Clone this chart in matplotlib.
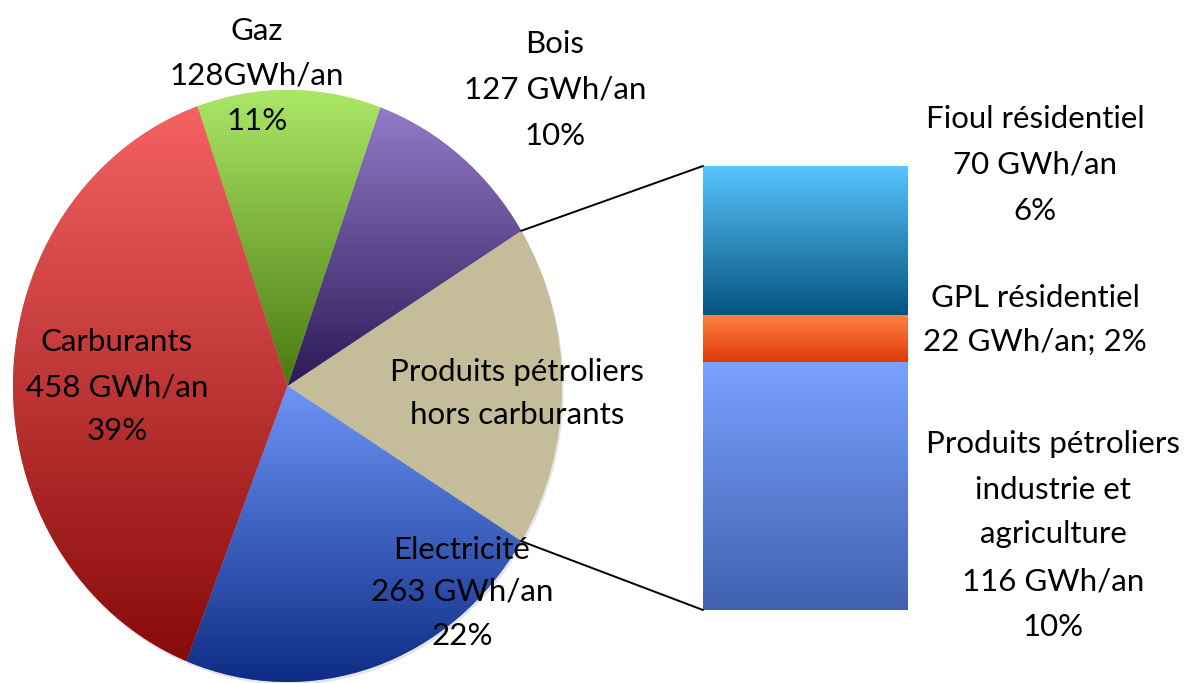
import numpy as np
import matplotlib
matplotlib.use("Agg")
import matplotlib.pyplot as plt
from matplotlib.colors import LinearSegmentedColormap
from matplotlib.patches import ConnectionPatch
import matplotlib.patheffects as pe

# ---------------- data ----------------
pie_names = ["Produits pétroliers\nhors carburants", "Bois", "Gaz", "Carburants", "Electricité"]
pie_values = [208, 127, 128, 458, 263]           # GWh/an
pie_value_labels = ["", "127 GWh/an", "128GWh/an", "458 GWh/an", "263 GWh/an"]
pie_pct_labels = ["", "10%", "11%", "39%", "22%"]

bar_names = ["Produits pétroliers\nindustrie et\nagriculture", "GPL résidentiel", "Fioul résidentiel"]
bar_values = [116, 22, 70]                        # GWh/an (bottom -> top)
bar_value_labels = ["116 GWh/an", "22 GWh/an; 2%", "70 GWh/an"]
bar_pct_labels = ["10%", "", "6%"]

# ---------------- style ----------------
pie_grad = [("#C5BD9A", "#C5BD9A"),
            ("#927BC8", "#2C1957"),
            ("#ABE866", "#4B7810"),
            ("#F56262", "#880A0A"),
            ("#6D95F7", "#0E2C84")]
bar_grad = [("#79A1FF", "#4161AF"),
            ("#FF8042", "#DE3A06"),
            ("#59C6FF", "#045480")]

W, H = 1189, 683
fig = plt.figure(figsize=(W / 100, H / 100), dpi=100)
FONT = "Lato"
FS = 22.5


def fx(x):
    return x / W


def fy(y):
    return 1 - y / H


def grad_fill(ax, patch, top, bottom):
    ext = patch.get_path().get_extents()
    cmap = LinearSegmentedColormap.from_list("g", [top, bottom])
    img = ax.imshow(np.linspace(0, 1, 256).reshape(-1, 1), cmap=cmap, aspect="auto",
                    extent=(ext.x0, ext.x1, ext.y0, ext.y1), origin="upper",
                    interpolation="bilinear", zorder=2)
    img.set_clip_path(patch)


# ---------------- pie ----------------
axp = fig.add_axes([fx(13), fy(682), fx(549), 592 / H])
total = sum(pie_values)
start = -pie_values[0] / total * 360 / 2
wedges, _ = axp.pie(pie_values, startangle=start, counterclock=True, radius=1,
                    colors=[g[0] for g in pie_grad],
                    wedgeprops=dict(linewidth=0, edgecolor="none"))
for w, (t, b) in zip(wedges, pie_grad):
    w.set_path_effects([pe.SimplePatchShadow(offset=(1.2, -2.0), shadow_rgbFace="#8a8a8a", alpha=0.22),
                        pe.Normal()])
    grad_fill(axp, w, t, b)
axp.set_aspect("auto")
axp.set_xlim(-1, 1)
axp.set_ylim(-1, 1)
axp.axis("off")

# ---------------- bar ----------------
axb = fig.add_axes([fx(703), fy(610), fx(205), 444 / H])
bottoms = np.concatenate([[0], np.cumsum(bar_values)[:-1]])
bars = axb.bar([0] * len(bar_values), bar_values, bottom=bottoms, width=1.0,
               color=[g[0] for g in bar_grad], linewidth=0)
for r, (t, b) in zip(bars, bar_grad):
    r.set_path_effects([pe.SimplePatchShadow(offset=(2.0, -2.0), shadow_rgbFace="#8a8a8a", alpha=0.28),
                        pe.Normal()])
    ext = r.get_bbox()
    cmap = LinearSegmentedColormap.from_list("g", [t, b])
    img = axb.imshow(np.linspace(0, 1, 256).reshape(-1, 1), cmap=cmap, aspect="auto",
                     extent=(ext.x0, ext.x1, ext.y0, ext.y1), origin="upper",
                     interpolation="bilinear", zorder=2)
    img.set_clip_path(r)
axb.set_xlim(-0.5, 0.5)
axb.set_ylim(0, sum(bar_values))
axb.axis("off")

# ---------------- connector lines ----------------
pp = wedges[0]
for ang, yb in [(pp.theta2, sum(bar_values)), (pp.theta1, 0)]:
    a = np.deg2rad(ang)
    con = ConnectionPatch(xyA=(np.cos(a), np.sin(a)), coordsA=axp.transData,
                          xyB=(-0.5, yb), coordsB=axb.transData,
                          color="black", lw=1.4, zorder=5)
    fig.add_artist(con)


# ---------------- labels ----------------
def lines_at(x, baselines, lines):
    for yb, s in zip(baselines, lines):
        fig.text(fx(x), fy(yb), s, ha="center", va="baseline",
                 fontsize=FS, family=FONT, color="black")


# pie labels
lines_at(257, [40, 84, 130], ["Gaz", pie_value_labels[2], pie_pct_labels[2]])
lines_at(555, [53, 98, 145], ["Bois", pie_value_labels[1], pie_pct_labels[1]])
lines_at(117, [351, 396, 440], ["Carburants", pie_value_labels[3], pie_pct_labels[3]])
lines_at(517, [381, 424], pie_names[0].split("\n"))
lines_at(462, [559, 601, 645], ["Electricité", pie_value_labels[4], pie_pct_labels[4]])

# bar labels
lines_at(1035, [128, 174, 220], [bar_names[2], bar_value_labels[2], bar_pct_labels[2]])
lines_at(1035, [307, 351], [bar_names[1], bar_value_labels[1]])
lines_at(1053, [453, 499, 543, 590, 636],
         bar_names[0].split("\n") + [bar_value_labels[0], bar_pct_labels[0]])

fig.savefig("out.png", dpi=100, facecolor="white")
